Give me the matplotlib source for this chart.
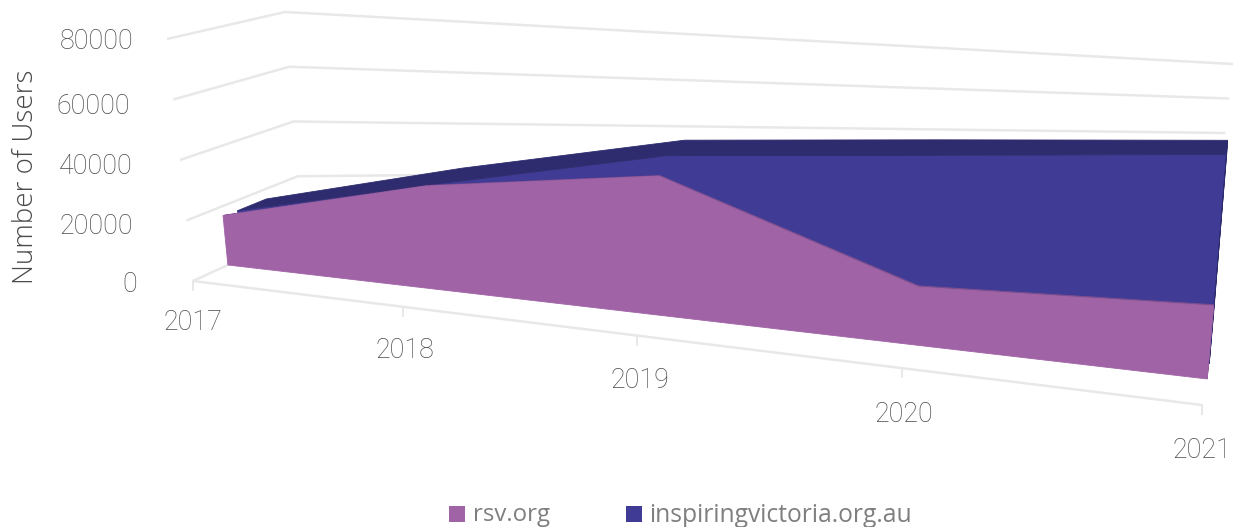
import matplotlib
matplotlib.use("Agg")
import matplotlib.pyplot as plt
from matplotlib.patches import Rectangle
import numpy as np

years = ["2017", "2018", "2019", "2020", "2021"]
rsv = [16800, 32500, 41200, 15700, 18600]
inspiring = [16500, 31100, 45600, 50800, 56000]
y_ticks = [0, 20000, 40000, 60000, 80000]

YMAX = 80000
# corners of the 3d box on the canvas (x, y in px)
F0 = np.array([193, 281.0])
FT0 = np.array([167, 39.0])
B0 = np.array([302, 231.0])
BT0 = np.array([285, 12.0])
F1 = np.array([1202, 405.0])
FT1 = np.array([1235, 65.0])
B1 = np.array([1218, 202.0])
BT1 = np.array([1233, 64.0])
KU = 1.27
KV = 2.2


def project(u, v, value):
    s = u / (u + KU * (1 - u))
    k = 1 + KV * s
    t = v / (v + k * (1 - v))
    w = value / YMAX
    front = (1 - s) * (F0 + w * (FT0 - F0)) + s * (F1 + w * (FT1 - F1))
    back = (1 - s) * (B0 + w * (BT0 - B0)) + s * (B1 + w * (BT1 - B1))
    # depth only bends the vertical position
    x = (1 - v) * front[0] + v * back[0]
    y = (1 - t) * front[1] + t * back[1]
    return np.array([x, y])


def face(points, **kw):
    xy = np.array([project(*p) for p in points])
    ax.fill(xy[:, 0], xy[:, 1], lw=0.6, zorder=3, **kw)


def line(points, **kw):
    xy = np.array([project(*p) for p in points])
    ax.plot(xy[:, 0], xy[:, 1], solid_capstyle="butt", zorder=1, **kw)


plt.rcParams["font.family"] = ["Roboto", "DejaVu Sans"]
fig = plt.figure(figsize=(12.33, 5.27), dpi=100)
ax = fig.add_axes([0, 0, 1, 1])
ax.set_xlim(0, 1233)
ax.set_ylim(527, 0)
ax.axis("off")

GRID = "#e8e8e8"
PURPLE = "#a064a6"
PURPLE_DARK = "#7f4f8f"
BLUE = "#403c96"
BLUE_DARK = "#2e2c6e"
TEXT = "#4a4a4a"
us = np.linspace(0, 1, len(years))

# walls
for val in y_ticks[1:]:
    line([(0, 0, val), (0, 1, val), (1, 1, val)], color=GRID, lw=1.8)
line([(0, 0, 0), (0, 1, 0)], color=GRID, lw=1.8)
line([(0, 0, 0), (1, 0, 0)], color=GRID, lw=1.8)

# category ticks
for u in us:
    x, y = project(u, 0, 0)
    ax.plot([x, x], [y, y + 9], color=GRID, lw=1.4, zorder=1)

# inspiringvictoria.org.au
V2F, V2B = 0.45, 0.71
top_f = [(u, V2F, val) for u, val in zip(us, inspiring)]
top_b = [(u, V2B, val) for u, val in zip(us, inspiring)]
face([(0, V2F, 0)] + top_f + [(1, V2F, 0)], color=BLUE)
face(top_f + top_b[::-1], color=BLUE_DARK)
face([(1, V2F, 0), (1, V2B, 0), (1, V2B, inspiring[-1]), (1, V2F, inspiring[-1])], color=BLUE_DARK)

# rsv.org is a thin slab at the front
V1F, V1B = 0.32, 0.335
top_f = [(u, V1F, val) for u, val in zip(us, rsv)]
top_b = [(u, V1B, val) for u, val in zip(us, rsv)]
face(top_f + top_b[::-1], color=PURPLE_DARK)
face([(1, V1F, 0), (1, V1B, 0), (1, V1B, rsv[-1]), (1, V1F, rsv[-1])], color=PURPLE_DARK)
face([(0, V1F, 0)] + top_f + [(1, V1F, 0)], color=PURPLE)

# labels
year_pos = [(193, 323), (405, 351), (640, 380), (904, 415), (1202, 450)]
for label, (x, y) in zip(years, year_pos):
    ax.text(x, y, label, ha="center", va="center", fontsize=19.4, color=TEXT, fontweight="light")
val_pos = [(130, 284), (96.5, 226), (95.5, 166), (93, 106), (96.5, 41.5)]
for val, (x, y) in zip(y_ticks, val_pos):
    ax.text(x, y, str(val), ha="center", va="center", fontsize=19.4, color=TEXT, fontweight="light")
ax.text(26, 176.5, "Number of Users", rotation=90, ha="center", va="center", fontsize=20,
        color=TEXT, fontweight="light", family=["Open Sans", "DejaVu Sans"])

# legend
ax.add_patch(Rectangle((449, 506), 16, 16, color=PURPLE, lw=0))
ax.text(473, 515, "rsv.org", ha="left", va="center", fontsize=17.3, color="#7f7f7f",
        family=["Open Sans", "DejaVu Sans"])
ax.add_patch(Rectangle((626, 506), 16, 16, color=BLUE, lw=0))
ax.text(649, 515, "inspiringvictoria.org.au", ha="left", va="center", fontsize=17.7, color="#7f7f7f",
        family=["Open Sans", "DejaVu Sans"])

fig.savefig("out.png", dpi=100)
plt.close(fig)
